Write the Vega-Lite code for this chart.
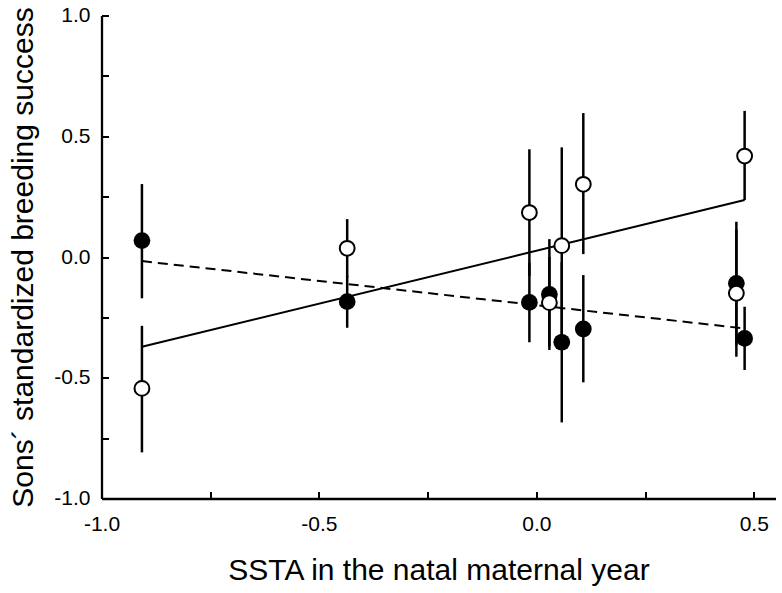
{
  "$schema": "https://vega.github.io/schema/vega-lite/v6.json",
  "autosize": "none",
  "padding": {"left": 101.5, "top": 15.5, "right": 6.5, "bottom": 94.5},
  "width": 674,
  "height": 483,
  "background": "white",
  "config": {
    "view": {"stroke": null},
    "font": "Liberation Sans",
    "axis": {
      "domainColor": "black",
      "domainWidth": 2.3,
      "tickColor": "black",
      "tickWidth": 2,
      "tickSize": -7,
      "grid": false,
      "labelFlush": false,
      "labelColor": "black",
      "labelFont": "Liberation Sans",
      "labelFontSize": 21,
      "titleColor": "black",
      "titleFont": "Liberation Sans",
      "titleFontSize": 30,
      "titleFontWeight": "normal"
    }
  },
  "datasets": {
    "pts": [
      {"group": "open", "x": -0.907, "y": -0.544, "lo": -0.809, "hi": -0.285},
      {"group": "open", "x": -0.435, "y": 0.036, "lo": -0.085, "hi": 0.157},
      {"group": "open", "x": -0.016, "y": 0.184, "lo": -0.078, "hi": 0.446},
      {"group": "open", "x": 0.030, "y": -0.189, "lo": -0.37, "hi": 0.0},
      {"group": "open", "x": 0.0585, "y": 0.047, "lo": -0.36, "hi": 0.454},
      {"group": "open", "x": 0.108, "y": 0.301, "lo": 0.012, "hi": 0.596},
      {"group": "open", "x": 0.460, "y": -0.150, "lo": -0.413, "hi": 0.113},
      {"group": "open", "x": 0.479, "y": 0.418, "lo": 0.236, "hi": 0.605},
      {"group": "filled", "x": -0.907, "y": 0.068, "lo": -0.171, "hi": 0.302},
      {"group": "filled", "x": -0.435, "y": -0.185, "lo": -0.293, "hi": -0.077},
      {"group": "filled", "x": -0.016, "y": -0.188, "lo": -0.353, "hi": -0.023},
      {"group": "filled", "x": 0.030, "y": -0.155, "lo": -0.385, "hi": 0.074},
      {"group": "filled", "x": 0.0585, "y": -0.353, "lo": -0.685, "hi": -0.021},
      {"group": "filled", "x": 0.108, "y": -0.298, "lo": -0.519, "hi": -0.075},
      {"group": "filled", "x": 0.460, "y": -0.109, "lo": -0.364, "hi": 0.146},
      {"group": "filled", "x": 0.479, "y": -0.337, "lo": -0.468, "hi": -0.206}
    ],
    "fits": [
      {"group": "open", "x": -0.907, "y": -0.372},
      {"group": "open", "x": 0.479, "y": 0.236},
      {"group": "filled", "x": -0.907, "y": -0.017},
      {"group": "filled", "x": 0.479, "y": -0.296}
    ]
  },
  "encoding": {
    "x": {
      "field": "x", "type": "quantitative",
      "scale": {"domain": [-1, 0.55], "nice": false, "zero": false},
      "axis": {
        "title": "SSTA in the natal maternal year",
        "values": [-1, -0.75, -0.5, -0.25, 0, 0.25, 0.5],
        "labelExpr": "abs(datum.value*2 - round(datum.value*2)) < 0.001 ? replace(format(datum.value, '.1f'), '\u2212', '-') : ''",
        "labelFontSize": 21,
        "titleFontSize": 30,
        "labelPadding": 22,
        "titlePadding": 21
      }
    },
    "y": {
      "field": "y", "type": "quantitative",
      "scale": {"domain": [-1, 1], "nice": false, "zero": false},
      "axis": {
        "title": "Sons\u00b4 standardized breeding success",
        "values": [-1, -0.75, -0.5, -0.25, 0, 0.25, 0.5, 0.75, 1],
        "labelExpr": "abs(datum.value*2 - round(datum.value*2)) < 0.001 ? replace(format(datum.value, '.1f'), '\u2212', '-') : ''",
        "labelFontSize": 21,
        "titleFontSize": 30,
        "labelPadding": 18.5,
        "titlePadding": 15
      }
    }
  },
  "layer": [
    {
      "data": {"name": "fits"},
      "transform": [{"filter": "datum.group == 'open'"}],
      "mark": {"type": "line", "color": "black", "strokeWidth": 2},
      "encoding": {}
    },
    {
      "data": {"name": "fits"},
      "transform": [{"filter": "datum.group == 'filled'"}],
      "mark": {"type": "line", "color": "black", "strokeWidth": 2, "strokeDash": [10, 6]},
      "encoding": {}
    },
    {
      "data": {"name": "pts"},
      "mark": {"type": "rule", "color": "black", "strokeWidth": 2.5},
      "encoding": {
        "y": {"field": "lo", "type": "quantitative"},
        "y2": {"field": "hi"}
      }
    },
    {
      "data": {"name": "pts"},
      "transform": [{"filter": "datum.group == 'filled'"}],
      "mark": {"type": "point", "shape": "circle", "filled": true, "color": "black", "opacity": 1, "size": 280},
      "encoding": {}
    },
    {
      "data": {"name": "pts"},
      "transform": [{"filter": "datum.group == 'open'"}],
      "mark": {"type": "point", "shape": "circle", "filled": false, "fill": "white", "fillOpacity": 1, "stroke": "black", "strokeWidth": 2, "opacity": 1, "size": 220},
      "encoding": {}
    }
  ]
}
